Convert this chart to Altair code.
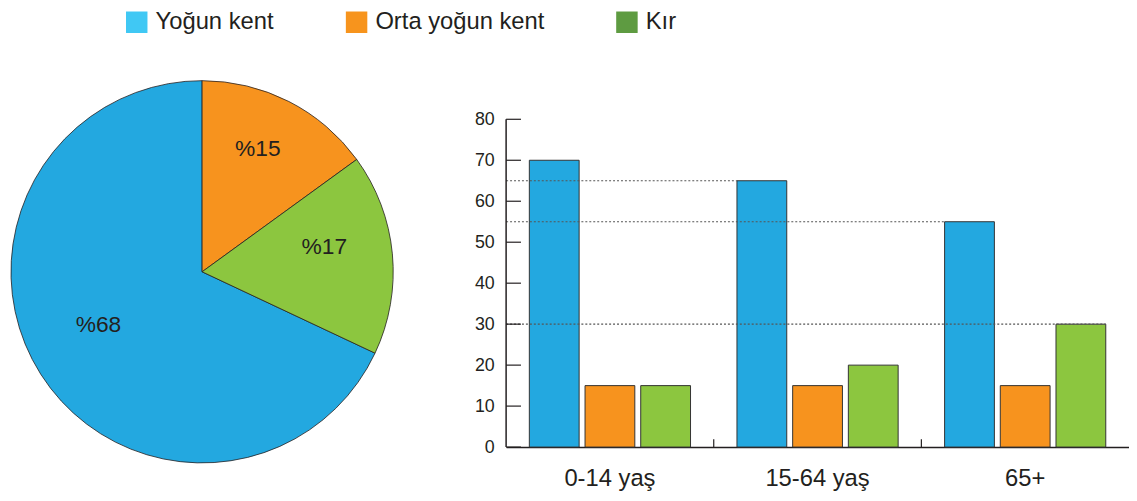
import altair as alt
import pandas as pd

# ---- data ----
kategoriler = ["0-14 yaş", "15-64 yaş", "65+"]
bolgeler = ["Yoğun kent", "Orta yoğun kent", "Kır"]
yogun_kent = [70, 65, 55]
orta_yogun_kent = [15, 15, 15]
kir = [15, 20, 30]

pasta_oran = [68, 15, 17]          # same order as bolgeler
pasta_etiket = ["%68", "%15", "%17"]
pasta_sira = [3, 1, 2]             # drawing order clockwise from 12 o'clock

y_degerleri = [0, 10, 20, 30, 40, 50, 60, 70, 80]

# dotted guide lines: value, category where they end, which bar edge
rehber_deger = [65, 55, 30]
rehber_bitis = ["15-64 yaş", "65+", "65+"]
rehber_kenar = ["sol", "sol", "sag"]

bar_renk = ["#23A8E0", "#F7931E", "#8CC63F"]
lejant_renk = ["#40C8F4", "#F7941D", "#5E9B41"]
yazi_renk = "#231F20"
FONT = "Liberation Sans"

# ---- layout constants of the grouped bars ----
PI, PO = 0.106, 0.417
EDGE = PO / (len(bolgeler) - PI + 2 * PO)   # outer gap as a fraction of a category band

# ---- tables ----
renk_map = dict(zip(bolgeler, bar_renk))
rows = []
for i, k in enumerate(kategoriler):
    for b, vals in zip(bolgeler, [yogun_kent, orta_yogun_kent, kir]):
        rows.append({"kat": k, "Bölge": b, "deger": vals[i], "renk": renk_map[b]})
bar_df = pd.DataFrame(rows)

pie_df = pd.DataFrame({"Bölge": bolgeler, "oran": pasta_oran, "etiket": pasta_etiket,
                       "sira": pasta_sira, "renk": bar_renk})
tick_df = pd.DataFrame({"v": y_degerleri})
rehber_df = pd.DataFrame({
    "deger": rehber_deger,
    "bitis": [kategoriler.index(k) + (EDGE if e == "sol" else 1 - EDGE)
              for k, e in zip(rehber_bitis, rehber_kenar)],
    "bas": [0] * len(rehber_deger),
})
ayirici_df = pd.DataFrame({"sinir": list(range(1, len(kategoriler)))})
one_df = pd.DataFrame({"a": [0]})
legend_df = pd.DataFrame({"Bölge": bolgeler, "kat": kategoriler, "deger": [0, 0, 0]})

# ---- pie ----
PIE = 386
theta = alt.Theta("oran:Q", stack=True)
order = alt.Order("sira:Q")
arc = alt.Chart(pie_df).mark_arc(stroke=yazi_renk, strokeWidth=0.8).encode(
    theta=theta, order=order, color=alt.Color("renk:N", scale=None),
)
pie_text = alt.Chart(pie_df).mark_text(radius=124, dy=-13, fontSize=23, font=FONT,
                                       color=yazi_renk).encode(
    theta=theta, order=order, text="etiket:N"
)
pie_chart = alt.layer(arc, pie_text).properties(width=PIE, height=PIE)

# ---- bars ----
W, H = 629, 370
Y_MAX = 80 * H / 331.0
x_scale = alt.Scale(domain=kategoriler, paddingInner=0, paddingOuter=0)
xq_scale = alt.Scale(domain=[0, len(kategoriler)], nice=False, zero=False)
y_scale = alt.Scale(domain=[0, Y_MAX], nice=False)

x_enc = alt.X("kat:N", scale=x_scale, title=None,
              axis=alt.Axis(labelAngle=0, labelFontSize=24, labelFont=FONT, labelColor=yazi_renk,
                            labelPadding=20, ticks=False, domainColor=yazi_renk, domainWidth=1.5))
y_enc = alt.Y("deger:Q", scale=y_scale, title=None,
              axis=alt.Axis(values=y_degerleri, ticks=False, domain=False, grid=False,
                            labelFontSize=18, labelFont=FONT, labelColor=yazi_renk, labelPadding=12))

bars = alt.Chart(bar_df).mark_bar(stroke="#333333", strokeWidth=1).encode(
    x=x_enc,
    xOffset=alt.XOffset("Bölge:N", scale=alt.Scale(domain=bolgeler, paddingInner=PI, paddingOuter=PO)),
    y=y_enc,
    color=alt.Color("renk:N", scale=None),
)

legend_layer = alt.Chart(legend_df).mark_square(opacity=0, size=1).encode(
    x=alt.X("kat:N", scale=x_scale),
    y=alt.Y("deger:Q", scale=y_scale),
    fill=alt.Fill("Bölge:N", scale=alt.Scale(domain=bolgeler, range=lejant_renk),
                  legend=alt.Legend(title=None, orient="none", legendX=115, legendY=-71,
                                    direction="horizontal", symbolType="square", symbolSize=470,
                                    symbolStrokeWidth=0, symbolOpacity=1, labelFontSize=24,
                                    labelFont=FONT, labelColor=yazi_renk, labelOffset=7,
                                    labelLimit=0, columnPadding=71, padding=0)),
)
band_layer = alt.layer(bars, legend_layer)

rehber = alt.Chart(rehber_df).mark_rule(
    color="#555555", strokeWidth=1.2, strokeDash=[2, 2]).encode(
    x=alt.X("bas:Q", scale=xq_scale, axis=None),
    x2="bitis:Q",
    y=alt.Y("deger:Q", scale=y_scale),
)
ayirici = alt.Chart(ayirici_df).mark_rule(color=yazi_renk, strokeWidth=1.2).encode(
    x=alt.X("sinir:Q", scale=xq_scale, axis=None), y=alt.value(H), y2=alt.value(H - 8)
)
y_ticks = alt.Chart(tick_df).mark_rule(color=yazi_renk, strokeWidth=1.2).encode(
    y=alt.Y("v:Q", scale=y_scale), x=alt.value(0), x2=alt.value(15)
)
y_line = alt.Chart(one_df).mark_rule(color=yazi_renk, strokeWidth=1.5).encode(
    x=alt.value(0), y=alt.datum(0), y2=alt.datum(80)
)
q_layer = alt.layer(rehber, ayirici, y_ticks, y_line)

bar_chart = alt.layer(band_layer, q_layer).resolve_scale(x="independent").properties(
    width=W, height=H
)

chart = alt.hconcat(pie_chart, bar_chart, spacing=79).properties(
    padding={"left": 1, "top": 0, "right": 0, "bottom": 0}
).configure(font=FONT).configure_view(stroke=None)

chart.save("out.html", embed_options={"renderer": "svg", "actions": False})
